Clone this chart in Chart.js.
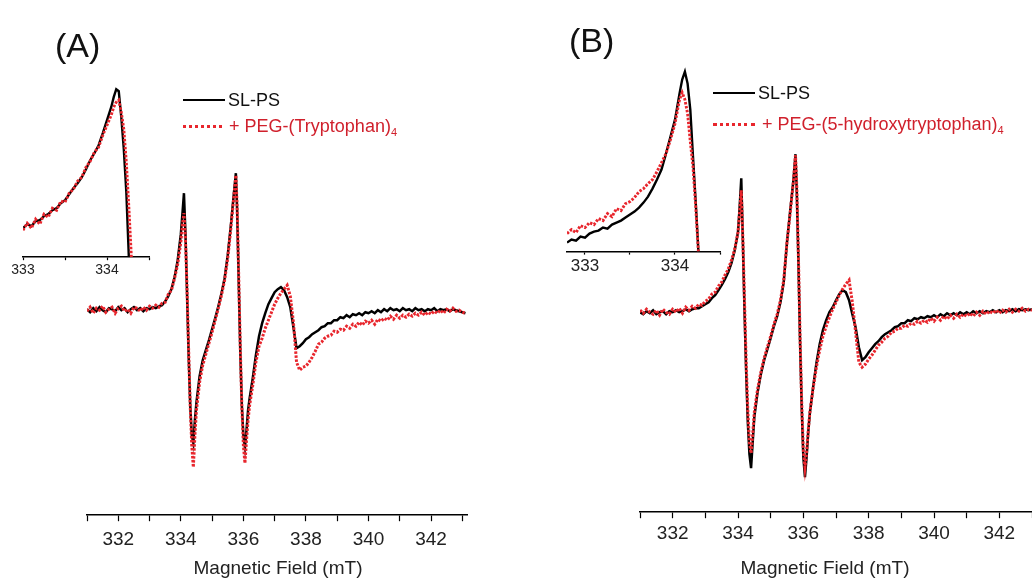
<!DOCTYPE html>
<html>
<head>
<meta charset="utf-8">
<script src="https://cdn.jsdelivr.net/npm/chart.js@4.4.1/dist/chart.umd.min.js"></script>
<style>
  body { margin: 0; background: #fff; width: 1032px; height: 583px; overflow: hidden; position: relative;
         font-family: "Liberation Sans", Arial, sans-serif; }
  canvas, .t, .ln { position: absolute; }
  .t { white-space: nowrap; font-size: 18px; line-height: 20px; color: #111; }
  .red { color: #d0202c; }
  .t sub { font-size: 11px; vertical-align: -4px; line-height: 0; }
  .panel { font-size: 34px; line-height: 46px; color: #111; }
  .title { font-size: 19px; width: 240px; text-align: center; color: #222; }
  .solid { border-top: 2.5px solid #000; height: 0; }
  .dots { border-top: 3px dotted #e8262d; height: 0; }
</style>
</head>
<body>
<canvas id="mainA" width="520" height="583" style="left:0;top:0"></canvas>
<canvas id="mainB" width="496" height="583" style="left:540px;top:0"></canvas>
<canvas id="insetA" width="175" height="220" style="left:0;top:70px"></canvas>
<canvas id="insetB" width="190" height="230" style="left:545px;top:60px"></canvas>

<div class="t panel" style="left:55px;top:22px">(A)</div>
<div class="t panel" style="left:569px;top:17px">(B)</div>

<div class="ln solid" style="left:183px;top:99px;width:42px"></div>
<div class="t" style="left:228px;top:90px">SL-PS</div>
<div class="ln dots" style="left:183px;top:125px;width:39px"></div>
<div class="t red" style="left:229px;top:116px">+ PEG-(Tryptophan)<sub>4</sub></div>

<div class="ln solid" style="left:713px;top:92px;width:42px"></div>
<div class="t" style="left:758px;top:83px">SL-PS</div>
<div class="ln dots" style="left:713px;top:123px;width:42px"></div>
<div class="t red" style="left:762px;top:114px">+ PEG-(5-hydroxytryptophan)<sub>4</sub></div>

<div class="t title" style="left:158px;top:558px">Magnetic Field (mT)</div>
<div class="t title" style="left:705px;top:558px">Magnetic Field (mT)</div>

<script>
// magnetic field (mT), shared by both main spectra
const field = [
  331.0,331.1,331.2,331.3,331.4,331.5,331.6,331.7,331.8,331.9,
  332.0,332.1,332.2,332.3,332.4,332.5,332.6,332.7,332.8,332.9,
  333.0,333.1,333.2,
  333.3,333.4,333.5,333.6,333.7,333.8,333.9,334.0,
  334.05,334.1,334.15,334.2,334.25,334.3,334.35,334.4,334.45,
  334.5,334.6,334.7,334.8,334.9,335.0,335.1,335.2,335.3,335.4,335.5,335.6,335.7,
  335.76,
  335.8,335.85,335.9,335.95,336.0,336.05,336.1,336.15,
  336.2,336.3,336.4,336.5,336.6,336.7,336.8,336.9,337.0,337.1,337.2,337.3,337.4,337.5,337.6,337.7,337.8,337.9,338.0,
  338.1,338.2,338.3,338.4,338.5,338.6,338.7,338.8,338.9,339.0,
  339.1,339.2,339.3,339.4,339.5,339.6,339.7,339.8,339.9,340.0,
  340.1,340.2,340.3,340.4,340.5,340.6,340.7,340.8,340.9,341.0,
  341.1,341.2,341.3,341.4,341.5,341.6,341.7,341.8,341.9,342.0,
  342.1,342.2,342.3,342.4,342.5,342.6,342.7,342.8,342.9,343.0,
  343.1
];

// (A) SL-PS and + PEG-(Tryptophan)4
const slpsA = [
  0.01,-0.02,0.02,-0.01,0.03,0.00,-0.02,0.02,0.01,-0.01,
  0.03,0.00,0.02,-0.02,0.01,0.03,0.00,0.02,-0.01,0.02,
  0.01,0.03,0.02,
  0.04,0.05,0.09,0.14,0.21,0.33,0.50,0.76,
  0.96,1.17,0.75,0.15,-0.45,-0.95,-1.25,-1.33,-1.10,
  -0.92,-0.66,-0.50,-0.40,-0.30,-0.19,-0.08,0.04,0.17,0.32,0.55,0.85,1.18,
  1.37,
  1.00,0.30,-0.40,-0.95,-1.25,-1.37,-1.20,-1.00,
  -0.88,-0.68,-0.45,-0.26,-0.13,-0.03,0.06,0.12,0.18,0.21,0.23,0.20,0.13,0.03,-0.17,-0.38,-0.36,-0.33,-0.29,
  -0.27,-0.24,-0.22,-0.20,-0.17,-0.16,-0.13,-0.13,-0.10,-0.10,
  -0.07,-0.08,-0.05,-0.07,-0.04,-0.05,-0.03,-0.05,-0.02,-0.03,
  -0.01,-0.03,0.00,-0.02,0.01,-0.01,0.02,0.00,0.01,-0.01,
  0.02,0.00,0.01,-0.01,0.02,0.00,0.01,-0.01,0.01,0.00,
  0.02,-0.01,0.01,0.00,0.01,-0.01,0.01,0.00,-0.01,-0.02,
  -0.03
];
const pegTrpA = [
  -0.01,0.03,-0.03,0.02,0.00,0.04,-0.02,0.01,0.03,-0.03,
  0.02,0.04,-0.01,0.01,-0.03,0.03,0.02,-0.01,0.03,0.00,
  0.04,0.02,0.05,
  0.03,0.07,0.08,0.16,0.20,0.32,0.46,0.68,
  0.85,0.97,0.70,0.20,-0.40,-0.95,-1.35,-1.57,-1.25,
  -1.00,-0.72,-0.55,-0.44,-0.33,-0.22,-0.10,0.02,0.15,0.30,0.52,0.82,1.15,
  1.35,
  1.05,0.35,-0.35,-0.95,-1.35,-1.53,-1.30,-1.10,
  -0.95,-0.75,-0.52,-0.36,-0.28,-0.18,-0.10,-0.02,0.06,0.12,0.17,0.21,0.25,0.14,-0.12,-0.52,-0.60,-0.57,-0.56,
  -0.52,-0.47,-0.41,-0.34,-0.32,-0.28,-0.26,-0.25,-0.21,-0.22,
  -0.19,-0.20,-0.16,-0.18,-0.14,-0.16,-0.12,-0.15,-0.11,-0.13,
  -0.10,-0.14,-0.09,-0.11,-0.08,-0.10,-0.06,-0.09,-0.05,-0.08,
  -0.05,-0.07,-0.04,-0.06,-0.03,-0.05,-0.02,-0.05,-0.02,-0.04,
  -0.01,-0.03,0.00,-0.03,0.01,-0.01,0.02,-0.01,0.00,-0.02,
  -0.03
];

// (B) SL-PS and + PEG-(5-hydroxytryptophan)4
const slpsB = [
  0.00,-0.02,0.01,-0.01,0.02,-0.02,0.00,0.01,-0.02,0.01,
  0.00,0.02,0.00,0.01,0.03,0.01,0.03,0.04,0.04,0.06,
  0.08,0.10,0.14,
  0.17,0.22,0.27,0.33,0.40,0.49,0.62,0.80,
  1.05,1.34,0.70,0.00,-0.60,-1.10,-1.42,-1.56,-1.30,
  -1.05,-0.80,-0.62,-0.48,-0.37,-0.26,-0.14,-0.04,0.10,0.30,0.70,1.02,1.33,
  1.58,
  1.20,0.50,-0.30,-0.95,-1.45,-1.65,-1.45,-1.20,
  -1.01,-0.75,-0.51,-0.32,-0.18,-0.08,0.00,0.05,0.12,0.18,0.22,0.20,0.12,-0.02,-0.15,-0.35,-0.48,-0.45,-0.40,
  -0.36,-0.32,-0.29,-0.25,-0.22,-0.20,-0.18,-0.15,-0.14,-0.11,
  -0.11,-0.08,-0.09,-0.06,-0.07,-0.05,-0.06,-0.04,-0.05,-0.03,
  -0.05,-0.02,-0.04,-0.01,-0.03,-0.01,-0.03,0.00,-0.02,0.00,
  -0.02,0.01,-0.01,0.01,-0.01,0.01,0.00,0.02,0.00,0.02,
  0.00,0.02,0.01,0.03,0.01,0.03,0.02,0.03,0.02,0.03,
  0.02
];
const pegHtrpB = [
  0.02,-0.01,0.03,0.00,-0.02,0.02,-0.03,0.03,0.00,-0.02,
  0.03,0.00,0.04,-0.01,0.05,0.02,0.06,0.04,0.08,0.07,
  0.11,0.13,0.18,
  0.20,0.26,0.30,0.37,0.43,0.52,0.63,0.80,
  1.00,1.22,0.72,0.10,-0.50,-0.98,-1.30,-1.41,-1.22,
  -1.00,-0.77,-0.60,-0.46,-0.35,-0.24,-0.12,-0.02,0.12,0.32,0.70,1.00,1.32,
  1.57,
  1.25,0.55,-0.25,-0.90,-1.38,-1.55,-1.40,-1.18,
  -1.00,-0.76,-0.55,-0.38,-0.24,-0.14,-0.05,0.03,0.10,0.17,0.23,0.28,0.32,0.10,-0.20,-0.50,-0.55,-0.52,-0.47,
  -0.43,-0.38,-0.33,-0.30,-0.26,-0.24,-0.20,-0.19,-0.16,-0.16,
  -0.13,-0.14,-0.11,-0.12,-0.09,-0.11,-0.08,-0.10,-0.06,-0.09,
  -0.05,-0.08,-0.04,-0.07,-0.03,-0.06,-0.02,-0.05,-0.02,-0.04,
  -0.01,-0.04,0.00,-0.03,0.01,-0.02,0.01,-0.01,0.02,-0.01,
  0.02,0.00,0.03,0.00,0.03,0.01,0.04,0.01,0.03,0.02,
  0.03
];

// insets: zoom on the low-field peak
const insetFieldA = [
  333.00,333.05,333.10,333.15,333.20,333.25,333.30,333.35,333.40,333.45,
  333.50,333.55,333.60,333.65,333.70,333.75,333.80,333.85,333.90,333.95,
  334.00,334.05,334.08,334.11,334.14,334.17,334.20,334.23,334.26,334.29
];
const insetSlpsA = [
  0.29,0.33,0.31,0.36,0.37,0.41,0.43,0.47,0.49,0.54,
  0.57,0.63,0.69,0.74,0.80,0.88,0.97,1.04,1.12,1.24,
  1.37,1.50,1.60,1.68,1.66,1.40,1.08,0.65,0.00,null
];
const insetPegA = [
  0.27,0.34,0.29,0.38,0.33,0.43,0.40,0.49,0.47,0.56,
  0.55,0.64,0.68,0.76,0.80,0.90,0.96,1.05,1.10,1.22,
  1.32,1.42,1.50,1.55,1.57,1.45,1.28,0.95,0.50,0.00
];
const insetFieldB = [
  332.80,332.85,332.90,332.95,333.00,333.05,333.10,333.15,333.20,333.25,
  333.30,333.35,333.40,333.45,333.50,333.55,333.60,333.65,333.70,333.75,
  333.80,333.85,333.90,333.95,334.00,334.05,334.08,334.11,334.14,334.17,
  334.20,334.23,334.26,334.28
];
const insetSlpsB = [
  0.09,0.12,0.11,0.15,0.14,0.18,0.20,0.21,0.24,0.23,
  0.27,0.29,0.31,0.34,0.37,0.40,0.44,0.49,0.55,0.63,
  0.72,0.82,0.98,1.15,1.32,1.58,1.72,1.80,1.68,1.42,
  0.95,0.50,0.00,null
];
const insetPegB = [
  0.18,0.22,0.19,0.26,0.24,0.29,0.27,0.33,0.31,0.38,
  0.35,0.43,0.41,0.48,0.50,0.54,0.60,0.63,0.68,0.72,
  0.80,0.89,0.98,1.12,1.28,1.52,1.59,1.52,1.38,1.10,
  0.85,0.45,0.00,null
];

const mainTickLabels = [332, 334, 336, 338, 340, 342];
const insetTickLabels = [333, 334];

Chart.defaults.font.family = '"Liberation Sans", Arial, sans-serif';

function pts(xs, ys) {
  return xs.map((x, i) => ({ x: x, y: ys[i] }));
}

function spectrum(id, xs, black, red, o) {
  const canvas = document.getElementById(id);
  const chart = new Chart(canvas, {
    type: 'line',
    data: {
      datasets: [
        { data: pts(xs, red), borderColor: '#e8262d', borderWidth: o.lw + 0.5, borderDash: [2.5, 1.5], order: 1 },
        { data: pts(xs, black), borderColor: '#000', borderWidth: o.lw, order: 2 }
      ]
    },
    options: {
      responsive: false,
      animation: false,
      events: [],
      layout: { padding: o.pad },
      elements: { point: { radius: 0 }, line: { tension: 0 } },
      plugins: { legend: { display: false }, tooltip: { enabled: false } },
      scales: {
        x: {
          type: 'linear', min: o.xmin, max: o.xmax,
          border: { color: '#000', width: 1.5 },
          grid: { drawOnChartArea: false, tickLength: o.tick, tickColor: '#000', tickWidth: 1.2 },
          ticks: {
            stepSize: o.step, includeBounds: false, autoSkip: false, maxRotation: 0,
            padding: o.tickPad, color: '#222', font: { size: o.font },
            callback: v => o.labels.some(l => Math.abs(l - v) < 1e-6) ? String(Math.round(v)) : ''
          }
        },
        y: { display: false, min: o.ymin, max: o.ymin + 4 }
      }
    }
  });
  // keep 100 px per intensity unit, then put the axis line where the figure has it
  const area = chart.chartArea;
  chart.options.scales.y.max = o.ymin + (area.bottom - area.top) / 100;
  chart.update();
  canvas.style.top = (o.axisY - chart.chartArea.bottom) + 'px';
}

spectrum('mainA', field, slpsA, pegTrpA, {
  xmin: 331, xmax: 343.15, step: 1, labels: mainTickLabels, ymin: -2.05, axisY: 515,
  pad: { left: 87, right: 53, top: 60, bottom: 25 }, tick: 6, tickPad: 7, font: 19, lw: 2.5
});
spectrum('mainB', field, slpsB, pegHtrpB, {
  xmin: 331, xmax: 343, step: 1, labels: mainTickLabels, ymin: -2.0, axisY: 512,
  pad: { left: 100, right: 0, top: 60, bottom: 33 }, tick: 6, tickPad: 4, font: 19, lw: 2.5
});
spectrum('insetA', insetFieldA, insetSlpsA, insetPegA, {
  xmin: 333, xmax: 334.5, step: 0.5, labels: insetTickLabels, ymin: 0, axisY: 257,
  pad: { left: 23, right: 26, top: 7, bottom: 7 }, tick: 3, tickPad: 2, font: 14, lw: 2.4
});
spectrum('insetB', insetFieldB, insetSlpsB, insetPegB, {
  xmin: 332.8, xmax: 334.5, step: 0.5, labels: insetTickLabels, ymin: 0, axisY: 252,
  pad: { left: 22, right: 15, top: 7, bottom: 9 }, tick: 3, tickPad: 2, font: 17, lw: 2.4
});
</script>
</body>
</html>
